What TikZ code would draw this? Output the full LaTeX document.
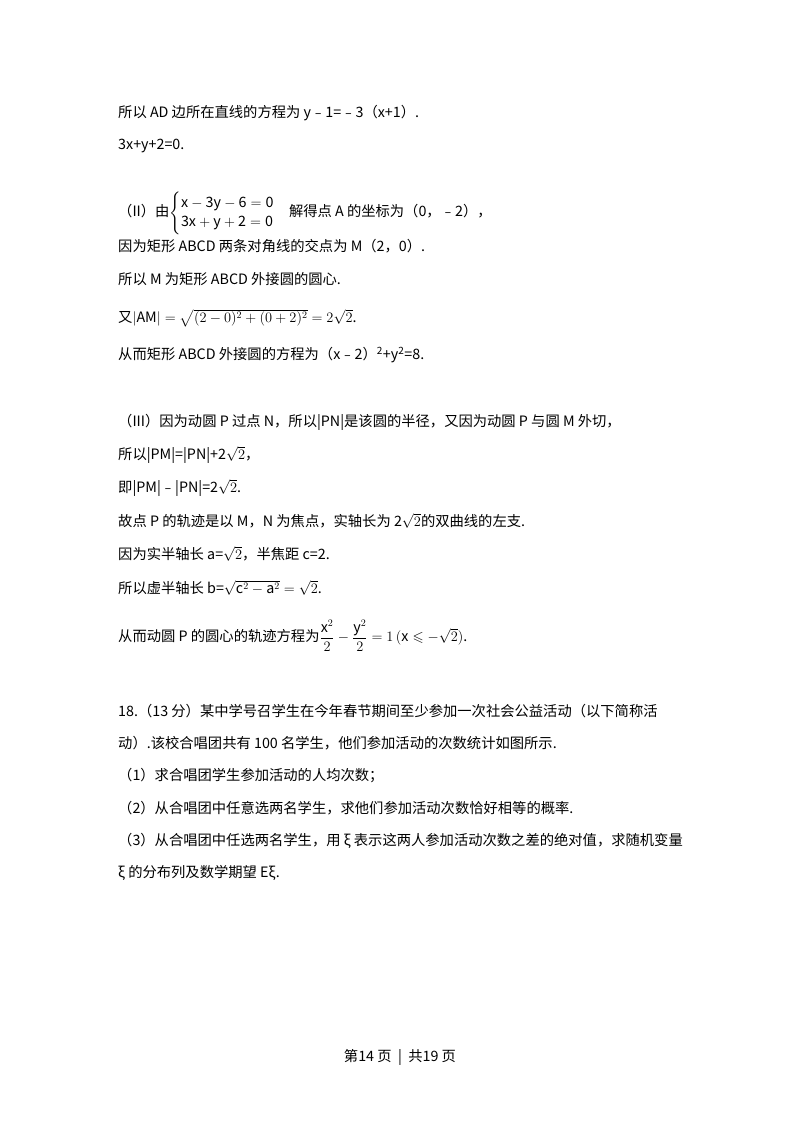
\documentclass[tikz,border=0pt]{standalone}
\usepackage{amsmath,amssymb}
\usepackage{fontspec}
\setmainfont{Noto Sans CJK SC}
\begin{document}
\begin{tikzpicture}[x=1pt,y=-1pt,every node/.style={anchor=west,inner sep=0pt,font=\fontsize{14.3}{16}\selectfont}]
\useasboundingbox (0,0) rectangle (800,1132);
\fill[white] (0,0) rectangle (800,1132);
\node (l1) at (118,113) {所以 AD 边所在直线的方程为 y﹣1=﹣3（x+1）.};
\node (l2) at (118,146) {3x+y+2=0.};
\node (l3) at (118,213) {（II）由$\begin{cases}\mathrm{x-3y-6=0}\\\mathrm{3x+y+2=0}\end{cases}$解得点 A 的坐标为（0，﹣2），};
\node (l4) at (118,246) {因为矩形 ABCD 两条对角线的交点为 M（2，0）.};
\node (l5) at (118,279) {所以 M 为矩形 ABCD 外接圆的圆心.};
\node (l6) at (118,318) {又$|\mathrm{AM}|=\sqrt{(2-0)^2+(0+2)^2}=2\sqrt{2}$.};
\node (l7) at (118,355) {从而矩形 ABCD 外接圆的方程为（x﹣2）\textsuperscript{2}+y\textsuperscript{2}=8.};
\node (l8) at (118,422) {（III）因为动圆 P 过点 N，所以|PN|是该圆的半径，又因为动圆 P 与圆 M 外切，};
\node (l9) at (118,455) {所以|PM|=|PN|+2$\sqrt{2}$，};
\node (l10) at (118,488) {即|PM|﹣|PN|=2$\sqrt{2}$.};
\node (l11) at (118,521) {故点 P 的轨迹是以 M，N 为焦点，实轴长为 2$\sqrt{2}$的双曲线的左支.};
\node (l12) at (118,554) {因为实半轴长 a=$\sqrt{2}$，半焦距 c=2.};
\node (l13) at (118,588) {所以虚半轴长 b=$\sqrt{\mathrm{c}^2-\mathrm{a}^2}=\sqrt{2}$.};
\node (l14) at (118,636) {从而动圆 P 的圆心的轨迹方程为$\dfrac{\mathrm{x}^2}{2}-\dfrac{\mathrm{y}^2}{2}=1\,(\mathrm{x}\leqslant-\sqrt{2})$.};
\node (l15) at (118,711) {18.（13 分）某中学号召学生在今年春节期间至少参加一次社会公益活动（以下简称活};
\node (l16) at (118,743) {动）.该校合唱团共有 100 名学生，他们参加活动的次数统计如图所示.};
\node (l17) at (118,776) {（1）求合唱团学生参加活动的人均次数；};
\node (l18) at (118,808) {（2）从合唱团中任意选两名学生，求他们参加活动次数恰好相等的概率.};
\node (l19) at (118,841) {（3）从合唱团中任选两名学生，用 ξ 表示这两人参加活动次数之差的绝对值，求随机变量};
\node (l20) at (118,873) {ξ 的分布列及数学期望 Eξ.};
\node[anchor=center] (f) at (400,1057) {第14 页 \ | \ 共19 页};
\end{tikzpicture}
\end{document}
